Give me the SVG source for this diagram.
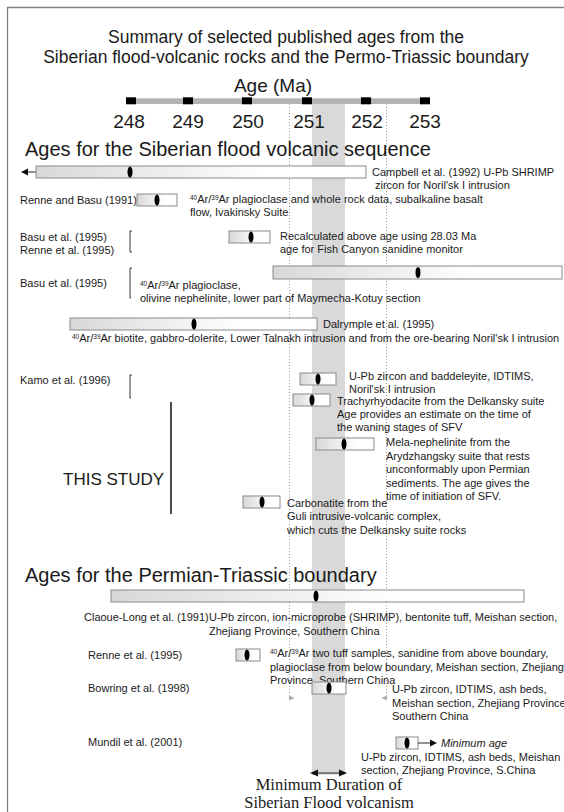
<svg xmlns="http://www.w3.org/2000/svg" width="564" height="812" viewBox="0 0 564 812">
<defs>
<linearGradient id="g" x1="0" x2="1" y1="0" y2="0"><stop offset="0" stop-color="#d8d8d8"/><stop offset="0.7" stop-color="#ffffff"/></linearGradient>
<style>
text{font-family:"Liberation Sans",Arial,Helvetica,sans-serif;fill:#1a1a1a}
.s{font-size:11px}
.t{font-size:17.5px;text-anchor:middle}
.h{font-size:20px}
.ax{font-size:19px;text-anchor:middle}
.box{fill:url(#g);stroke:#8a8a8a;stroke-width:1}
.mk{fill:#000}
.br{fill:none;stroke:#333;stroke-width:1}
.sup{font-size:6.5px}
.dot{stroke:#9a9a9a;stroke-width:1;stroke-dasharray:1 2;fill:none}
.ah{fill:#aaa}
.serif{font-family:"Liberation Serif","Times New Roman",serif;font-size:16.5px;text-anchor:middle}
.ln{stroke:#222;stroke-width:1;fill:none}
</style>
</defs>
<rect x="0" y="0" width="564" height="812" fill="#fff"/>
<path d="M7.5,812 V7.5 H564" fill="none" stroke="#808080" stroke-width="1.3"/>

<g id="title">
<text class="t" x="286" y="43">Summary of selected published ages from the</text>
<text class="t" x="286" y="63">Siberian flood-volcanic rocks and the Permo-Triassic boundary</text>
</g>

<g id="band">
<rect x="312" y="104" width="33" height="671" fill="#d9d9d9"/>
</g>

<g id="connectors">
<line class="dot" x1="289.5" y1="104" x2="289.5" y2="696"/>
<line class="dot" x1="386.5" y1="104" x2="386.5" y2="696"/>
<polygon class="ah" points="289,695.5 294.5,698 289,700.5"/>
<polygon class="ah" points="387,695.5 381.5,698 387,700.5"/>
</g>

<g id="axis">
<text x="273" y="92" font-size="19" text-anchor="middle">Age (Ma)</text>
<rect x="131" y="98.3" width="294" height="5.7" fill="#b3b3b3"/>
<rect x="126" y="97.3" width="10" height="7" fill="#000"/>
<rect x="183" y="97.3" width="10" height="7" fill="#000"/>
<rect x="242" y="97.3" width="10" height="7" fill="#000"/>
<rect x="302" y="97.3" width="10" height="7" fill="#000"/>
<rect x="361" y="97.3" width="10" height="7" fill="#000"/>
<rect x="420" y="97.3" width="10" height="7" fill="#000"/>
<text class="ax" x="129" y="128">248</text>
<text class="ax" x="188" y="128">249</text>
<text class="ax" x="248" y="128">250</text>
<text class="ax" x="309" y="128">251</text>
<text class="ax" x="367" y="128">252</text>
<text class="ax" x="425" y="128">253</text>
</g>

<text class="h" x="25" y="156" font-size="19.4">Ages for the Siberian flood volcanic sequence</text>

<g id="campbell">
<line class="ln" x1="27" y1="172" x2="36" y2="172"/>
<polygon points="21,172 28,168.5 28,175.5" fill="#111"/>
<rect class="box" x="36" y="166" width="330" height="12"/>
<ellipse class="mk" cx="130" cy="172" rx="2.5" ry="5.5"/>
<text class="s" x="372" y="176">Campbell et al. (1992) U-Pb SHRIMP</text>
<text class="s" x="375" y="189">zircon for Noril'sk I intrusion</text>
</g>

<g id="renne-basu-1991">
<text class="s" x="20" y="204">Renne and Basu (1991)</text>
<rect class="box" x="137" y="194" width="40" height="12"/>
<ellipse class="mk" cx="157" cy="200" rx="2.5" ry="5.5"/>
<text class="s" x="190" y="203"><tspan class="sup" baseline-shift="super">40</tspan>Ar/<tspan class="sup" baseline-shift="super">39</tspan>Ar plagioclase and whole rock data, subalkaline basalt</text>
<text class="s" x="190" y="216">flow, Ivakinsky Suite</text>
</g>

<g id="basu-renne-1995">
<text class="s" x="20" y="241">Basu et al. (1995)</text>
<text class="s" x="20" y="254">Renne et al. (1995)</text>
<path class="br" d="M132,231 H130 V252 H132"/>
<rect class="box" x="229" y="231" width="41" height="12"/>
<ellipse class="mk" cx="251" cy="237" rx="2.5" ry="5.5"/>
<text class="s" x="280" y="240">Recalculated above age using 28.03 Ma</text>
<text class="s" x="280" y="253">age for Fish Canyon sanidine monitor</text>
</g>

<g id="basu-1995">
<text class="s" x="20" y="287">Basu et al. (1995)</text>
<path class="br" d="M132,268 H130 V298 H131"/>
<rect class="box" x="273" y="266" width="289" height="13"/>
<ellipse class="mk" cx="418" cy="272.5" rx="2.5" ry="5.5"/>
<text class="s" x="140" y="289"><tspan class="sup" baseline-shift="super">40</tspan>Ar/<tspan class="sup" baseline-shift="super">39</tspan>Ar plagioclase,</text>
<text class="s" x="140" y="302">olivine nephelinite, lower part of Maymecha-Kotuy section</text>
</g>

<g id="dalrymple">
<rect class="box" x="70" y="318" width="247" height="12"/>
<ellipse class="mk" cx="194" cy="324" rx="2.5" ry="5.5"/>
<text class="s" x="323" y="328">Dalrymple et al. (1995)</text>
<text class="s" x="72" y="342"><tspan class="sup" baseline-shift="super">40</tspan>Ar/<tspan class="sup" baseline-shift="super">39</tspan>Ar biotite, gabbro-dolerite, Lower Talnakh intrusion and from the ore-bearing Noril'sk I intrusion</text>
</g>

<g id="kamo">
<text class="s" x="20" y="384">Kamo et al. (1996)</text>
<path class="br" d="M132,375 H130 V398 H131"/>
<rect class="box" x="300" y="373" width="36" height="12"/>
<ellipse class="mk" cx="318" cy="379" rx="2.5" ry="5.5"/>
<text class="s" x="349" y="380">U-Pb zircon and baddeleyite, IDTIMS,</text>
<text class="s" x="349" y="393">Noril'sk I intrusion</text>
</g>

<g id="this-study">
<text x="63" y="485" font-size="17">THIS STUDY</text>
<line x1="171" y1="402" x2="171" y2="514" stroke="#111" stroke-width="1.5"/>
</g>

<g id="trachyrhyodacite">
<rect class="box" x="293" y="394" width="37" height="12"/>
<ellipse class="mk" cx="312" cy="400" rx="2.5" ry="5.5"/>
<text class="s" x="337" y="405">Trachyrhyodacite from the Delkansky suite</text>
<text class="s" x="337" y="418">Age provides an estimate on the time of</text>
<text class="s" x="337" y="431">the waning stages of SFV</text>
</g>

<g id="mela-nephelinite">
<rect class="box" x="316" y="438" width="58" height="12"/>
<ellipse class="mk" cx="344" cy="444" rx="2.5" ry="5.5"/>
<text class="s" x="386" y="446">Mela-nephelinite from the</text>
<text class="s" x="386" y="459.5">Arydzhangsky suite that rests</text>
<text class="s" x="386" y="473">unconformably upon Permian</text>
<text class="s" x="386" y="486.5">sediments. The age gives the</text>
<text class="s" x="386" y="500">time of initiation of SFV.</text>
</g>

<g id="carbonatite">
<rect class="box" x="243" y="496" width="37" height="12"/>
<ellipse class="mk" cx="262" cy="502" rx="2.5" ry="5.5"/>
<text class="s" x="287" y="507">Carbonatite from the</text>
<text class="s" x="287" y="520">Guli intrusive-volcanic complex,</text>
<text class="s" x="287" y="534">which cuts the Delkansky suite rocks</text>
</g>

<text class="h" x="25" y="582">Ages for the Permian-Triassic boundary</text>

<g id="claoue-long">
<rect class="box" x="111" y="590" width="413" height="12"/>
<ellipse class="mk" cx="316" cy="596" rx="2.5" ry="5.5"/>
<text class="s" x="84" y="621" font-size="10">Claoue-Long et al. (1991)</text>
<text class="s" x="209" y="621" font-size="10.8">U-Pb zircon, ion-microprobe (SHRIMP), bentonite tuff, Meishan section,</text>
<text class="s" x="209" y="635" font-size="10.8">Zhejiang Province, Southern China</text>
</g>

<g id="renne-1995">
<text class="s" x="88" y="659">Renne et al. (1995)</text>
<rect class="box" x="236" y="649" width="24" height="12"/>
<ellipse class="mk" cx="247" cy="655" rx="2.5" ry="5.5"/>
<text class="s" x="270" y="657"><tspan class="sup" baseline-shift="super">40</tspan>Ar/<tspan class="sup" baseline-shift="super">39</tspan>Ar two tuff samples, sanidine from above boundary,</text>
<text class="s" x="270" y="671">plagioclase from below boundary, Meishan section, Zhejiang</text>
<text class="s" x="270" y="684">Province, Southern China</text>
</g>

<g id="bowring">
<text class="s" x="88" y="692">Bowring et al. (1998)</text>
<rect class="box" x="312" y="682" width="34" height="12"/>
<ellipse class="mk" cx="329" cy="688" rx="2.5" ry="5.5"/>
<text class="s" x="392" y="693">U-Pb zircon, IDTIMS, ash beds,</text>
<text class="s" x="392" y="707" font-size="10.3">Meishan section, Zhejiang Province</text>
<text class="s" x="392" y="720">Southern China</text>
</g>

<g id="mundil">
<text class="s" x="88" y="746">Mundil et al. (2001)</text>
<rect class="box" x="396" y="737" width="22" height="12"/>
<ellipse class="mk" cx="407" cy="743" rx="2.5" ry="5.5"/>
<line class="ln" x1="418" y1="743" x2="431" y2="743"/>
<polygon points="437,743 430,739.5 430,746.5" fill="#111"/>
<text class="s" x="441" y="747" font-style="italic">Minimum age</text>
<text class="s" x="361" y="761">U-Pb zircon, IDTIMS, ash beds, Meishan</text>
<text class="s" x="361" y="774">section, Zhejiang Province, S.China</text>
</g>

<g id="duration">
<line class="ln" x1="316" y1="773" x2="341" y2="773" stroke-width="1.3"/>
<polygon points="310,773 318,769.5 318,776.5" fill="#111"/>
<polygon points="347,773 339,769.5 339,776.5" fill="#111"/>
<text class="serif" x="329" y="790">Minimum Duration of</text>
<text class="serif" x="329" y="808">Siberian Flood volcanism</text>
</g>
</svg>
